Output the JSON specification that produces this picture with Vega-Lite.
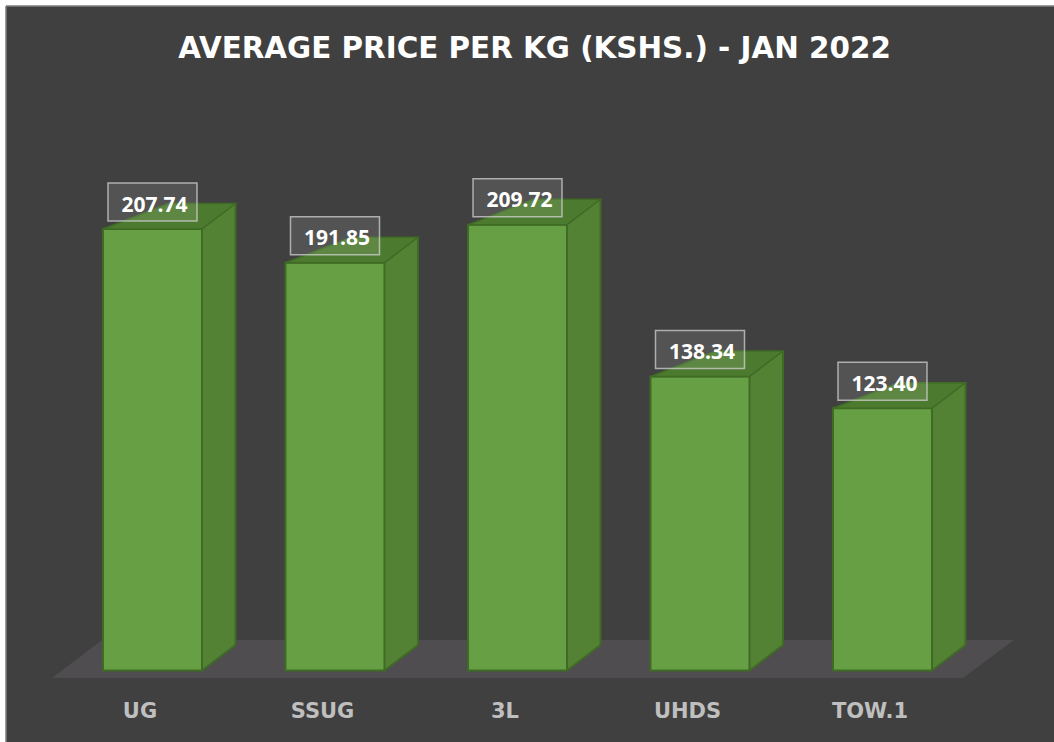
{
  "$schema": "https://vega.github.io/schema/vega-lite/v6.json",
  "width": 1048,
  "height": 736,
  "autosize": "none",
  "padding": {"left": 6, "top": 6, "right": 0, "bottom": 0},
  "background": "#ffffff",
  "config": {
    "view": {"fill": "#404040", "stroke": "#7f7f7f", "strokeWidth": 1.5, "strokeDash": [1048, 1784, 736, 0]}
  },
  "title": {
    "text": "AVERAGE PRICE PER KG (KSHS.) - JAN 2022",
    "font": "DejaVu Sans",
    "fontSize": 29.4,
    "fontWeight": "bold",
    "color": "#ffffff",
    "anchor": "middle",
    "dx": 4.5,
    "offset": -81.5,
    "baseline": "alphabetic"
  },
  "data": {
    "values": [
      {"cat": "UG", "value": 207.74},
      {"cat": "SSUG", "value": 191.85},
      {"cat": "3L", "value": 209.72},
      {"cat": "UHDS", "value": 138.34},
      {"cat": "TOW.1", "value": 123.40}
    ]
  },
  "encoding": {
    "x": {
      "field": "cat",
      "type": "nominal",
      "sort": null,
      "scale": {"domain": ["UG", "SSUG", "3L", "UHDS", "TOW.1"], "paddingInner": 0.4575, "paddingOuter": 0.6, "align": 0.4429},
      "axis": null
    }
  },
  "layer": [
    {
      "transform": [{"filter": "datum.cat === '3L'"}],
      "mark": {"type": "point", "shape": "M-465.5,7.5L445.5,7.5L496.5,-30.5L-415.5,-30.5Z", "size": 4, "filled": true, "fill": "#4f4d4f", "strokeWidth": 0, "opacity": 1},
      "encoding": {"y": {"datum": 0, "type": "quantitative", "scale": {"domain": [-33.65, 312.7], "nice": false, "zero": false}, "axis": null}}
    },
    {
      "mark": {"type": "bar", "width": 33.5, "xOffset": 66.25, "y2Offset": -25.5, "fill": "#548235", "strokeWidth": 0},
      "encoding": {"y": {"field": "value", "type": "quantitative"}, "y2": {"datum": 0}}
    },
    {
      "mark": {"type": "point", "shape": "M49.5,0L83,-25.5L83,1L49.5,1Z", "size": 4, "filled": true, "fill": "#548235", "strokeWidth": 0, "opacity": 1},
      "encoding": {"y": {"field": "value", "type": "quantitative"}}
    },
    {
      "mark": {"type": "point", "shape": "M49.5,-26.5L83,-26.5L83,-25.5L49.5,0Z", "size": 4, "filled": true, "fill": "#548235", "strokeWidth": 0, "opacity": 1},
      "encoding": {"y": {"datum": 0, "type": "quantitative"}}
    },
    {
      "mark": {"type": "bar", "fill": "#67a044", "stroke": "#3f6b25", "strokeWidth": 2},
      "encoding": {"y": {"field": "value", "type": "quantitative"}, "y2": {"datum": 0}}
    },
    {
      "mark": {"type": "point", "shape": "M-49.5,0L49.5,0L83,-25.5L16,-25.5Z", "size": 4, "filled": true, "fill": "#4c7a2f", "stroke": "#3f6b25", "strokeWidth": 1.5, "opacity": 1},
      "encoding": {"y": {"field": "value", "type": "quantitative"}}
    },
    {
      "mark": {"type": "rule", "xOffset": 83, "yOffset": -25.5, "y2Offset": -25.5, "stroke": "#3f6b25", "strokeWidth": 2},
      "encoding": {"y": {"field": "value", "type": "quantitative"}, "y2": {"datum": 0}}
    },
    {
      "mark": {"type": "point", "shape": "M49.5,0L83,-25.5", "size": 4, "filled": false, "fill": null, "stroke": "#3f6b25", "strokeWidth": 2, "opacity": 1},
      "encoding": {"y": {"datum": 0, "type": "quantitative"}}
    },
    {
      "mark": {"type": "point", "shape": "M-44.5,-19L44.5,-19L44.5,19L-44.5,19Z", "size": 4, "filled": true, "yOffset": -27, "fill": "#ffffff", "fillOpacity": 0.1, "stroke": "#d0d0d0", "strokeOpacity": 0.75, "strokeWidth": 1.5, "opacity": 1},
      "encoding": {"y": {"field": "value", "type": "quantitative"}}
    },
    {
      "mark": {"type": "text", "font": "Open Sans", "fontSize": 21, "fontWeight": "bold", "fill": "#ffffff", "align": "center", "baseline": "alphabetic", "dy": -17.5, "dx": 2},
      "encoding": {"y": {"field": "value", "type": "quantitative"}, "text": {"field": "value", "type": "quantitative", "format": ".2f"}}
    },
    {
      "mark": {"type": "text", "font": "DejaVu Sans", "fontSize": 21, "fontWeight": "bold", "fill": "#bfbfbf", "align": "center", "baseline": "alphabetic", "dy": 47.8, "dx": -12.5},
      "encoding": {"y": {"datum": 0, "type": "quantitative"}, "text": {"field": "cat", "type": "nominal"}}
    }
  ]
}
